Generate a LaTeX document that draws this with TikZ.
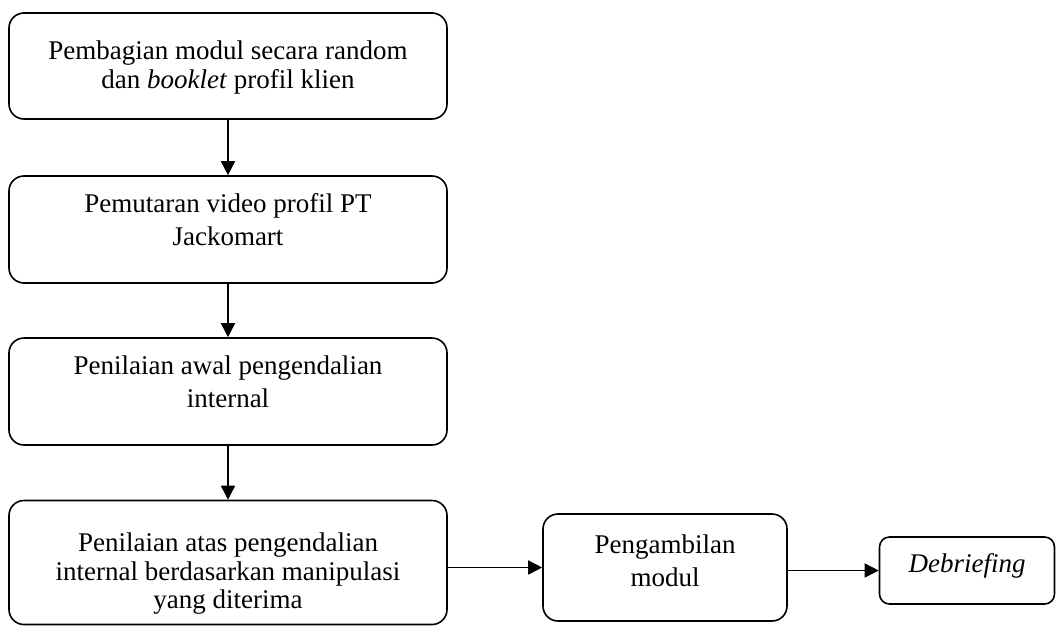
\documentclass[tikz,border=0pt]{standalone}
\usepackage{fontspec}
\setmainfont{Liberation Serif}
\usetikzlibrary{arrows.meta}
\newcommand\lnstrut{\vrule height 20pt depth 8pt width 0pt}
\begin{document}
\begin{tikzpicture}[x=1pt,y=-1pt,
  box/.style={draw, line width=1.6pt, rounded corners=15pt, inner sep=0pt},
  txt/.style={align=center, inner sep=0pt, font=\fontsize{27}{28.5}\selectfont},
  txtwide/.style={align=center, inner sep=0pt, font=\fontsize{27}{32.7}\selectfont},
  arr/.style={line width=1.6pt, -{Triangle[length=14pt,width=14pt]}}]
\useasboundingbox (0,0) rectangle (1056,626);
\node[box, minimum width=438pt, minimum height=106pt] (b1) at (228,66) {};
\node[box, minimum width=438pt, minimum height=107pt] (b2) at (228,229.5) {};
\node[box, minimum width=438pt, minimum height=107pt] (b3) at (228,391.5) {};
\node[box, minimum width=438pt, minimum height=124pt] (b4) at (228,562.5) {};
\node[box, minimum width=244pt, minimum height=107pt] (b5) at (665,567.5) {};
\node[box, rounded corners=10pt, minimum width=175pt, minimum height=67pt] (b6) at (967,570.5) {};
\node[txt] (t1) at ([yshift=-1.8pt]b1.center)
  {\lnstrut Pembagian modul secara random\\\lnstrut dan \textit{booklet} profil klien};
\node[txtwide] (t2) at ([yshift=6.5pt]b2.center)
  {\lnstrut Pemutaran video profil PT\\\lnstrut Jackomart};
\node[txtwide] (t3) at ([yshift=6.5pt]b3.center)
  {\lnstrut Penilaian awal pengendalian\\\lnstrut internal};
\node[txt] (t4) at ([yshift=-11.5pt]b4.center)
  {\lnstrut Penilaian atas pengendalian\\\lnstrut internal berdasarkan manipulasi\\\lnstrut yang diterima};
\node[txtwide] (t5) at ([yshift=3.2pt]b5.center)
  {\lnstrut Pengambilan\\\lnstrut modul};
\node[txt] (t6) at ([yshift=4.5pt]b6.center)
  {\lnstrut\textit{Debriefing}};
\draw[arr] (b1) -- (b2);
\draw[arr] (b2) -- (b3);
\draw[arr] (b3) -- (b4);
\draw[arr] (b4.east |- b5.west) -- (b5.west);
\draw[arr] (b5.east |- b6.west) -- (b6.west);
\end{tikzpicture}
\end{document}
